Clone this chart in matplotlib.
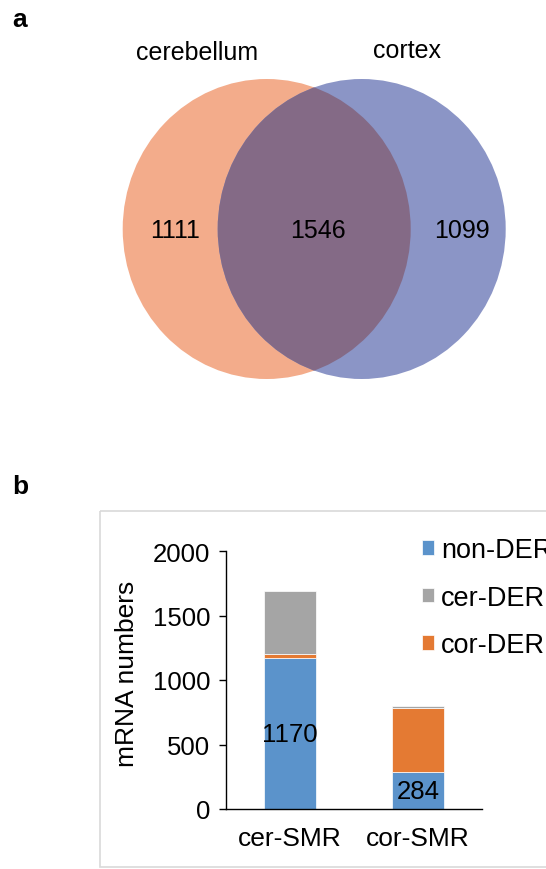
import matplotlib
matplotlib.use("Agg")
import matplotlib.pyplot as plt
from matplotlib.patches import Ellipse, Rectangle
import numpy as np

plt.rcParams['font.family'] = ['Liberation Sans', 'DejaVu Sans']

# venn counts
venn_sets = ["cerebellum", "cortex"]
only_cer = 1111
shared = 1546
only_cor = 1099

# stacked bars
groups = ["cer-SMR", "cor-SMR"]
non_der = [1170, 284]
cor_der = [34, 496]
cer_der = [484, 16]

c_left = '#F3AC8B'
c_right = '#8B95C6'
c_both = '#846A86'
c_blue = '#5B93CB'
c_orange = '#E47A33'
c_gray = '#A5A5A5'

fig = plt.figure(figsize=(5.46, 8.70), dpi=100)

# full-figure canvas in pixel units (y down)
cv = fig.add_axes([0, 0, 1, 1])
cv.set_xlim(0, 546)
cv.set_ylim(870, 0)
cv.axis('off')

e1 = Ellipse((266.7, 230), 288, 300, color=c_left, lw=0)
e2 = Ellipse((361.7, 230), 288, 300, color=c_right, lw=0)
cv.add_patch(e1)
cv.add_patch(e2)
e3 = Ellipse((361.7, 230), 288, 300, color=c_both, lw=0)
cv.add_patch(e3)
e3.set_clip_path(e1)

cv.text(196.7, 53, venn_sets[0], fontsize=18, ha='center', va='center')
cv.text(406.7, 51, venn_sets[1], fontsize=18, ha='center', va='center')
cv.text(175, 231, str(only_cer), fontsize=18, ha='center', va='center')
cv.text(318, 231, str(shared), fontsize=18, ha='center', va='center')
cv.text(461.7, 231, str(only_cor), fontsize=18, ha='center', va='center')

cv.text(20, 20, 'a', fontsize=19, fontweight='bold', ha='center', va='center')
cv.text(20, 487, 'b', fontsize=19, fontweight='bold', ha='center', va='center')

# light frame round panel b
cv.add_patch(Rectangle((100, 512), 460, 356, fill=False, ec='#D9D9D9', lw=1.2))

ax = fig.add_axes([226/546, 60/870, 256/546, 258/870])
x = np.arange(len(groups))
w = 0.4
b1 = ax.bar(x, non_der, w, color=c_blue, ec='white', lw=0.5, label='non-DER')
b2 = ax.bar(x, cor_der, w, bottom=non_der, color=c_orange, ec='white', lw=0.5, label='cor-DER')
bottom2 = [a + b for a, b in zip(non_der, cor_der)]
b3 = ax.bar(x, cer_der, w, bottom=bottom2, color=c_gray, ec='white', lw=0.5, label='cer-DER')

for xi, v in zip(x, non_der):
    ax.text(xi, v / 2, str(v), fontsize=18.5, ha='center', va='center')

ax.set_xlim(-0.5, 1.5)
ax.set_ylim(0, 2000)
ax.set_yticks([0, 500, 1000, 1500, 2000])
ax.set_xticks(x)
ax.set_xticklabels(groups)
ax.tick_params(axis='x', length=0, pad=12, labelsize=19)
ax.tick_params(axis='y', length=5, width=1, pad=6.5, labelsize=18.5, direction='out')
for s in ['top', 'right']:
    ax.spines[s].set_visible(False)
ax.spines['left'].set_linewidth(1)
ax.spines['bottom'].set_linewidth(1)
ax.set_ylabel('mRNA numbers', fontsize=19)
ax.yaxis.set_label_coords(-0.34, 0.527)

leg = ax.legend([b1, b3, b2], ['non-DER', 'cer-DER', 'cor-DER'],
                loc='upper left', bbox_to_anchor=(422 / 546, 1 - 538 / 870),
                bbox_transform=fig.transFigure, frameon=False, fontsize=19.5,
                handlelength=0.45, handleheight=0.45, handletextpad=0.25,
                labelspacing=0.8, borderpad=0, borderaxespad=0)

fig.savefig('out.png', dpi=100)
